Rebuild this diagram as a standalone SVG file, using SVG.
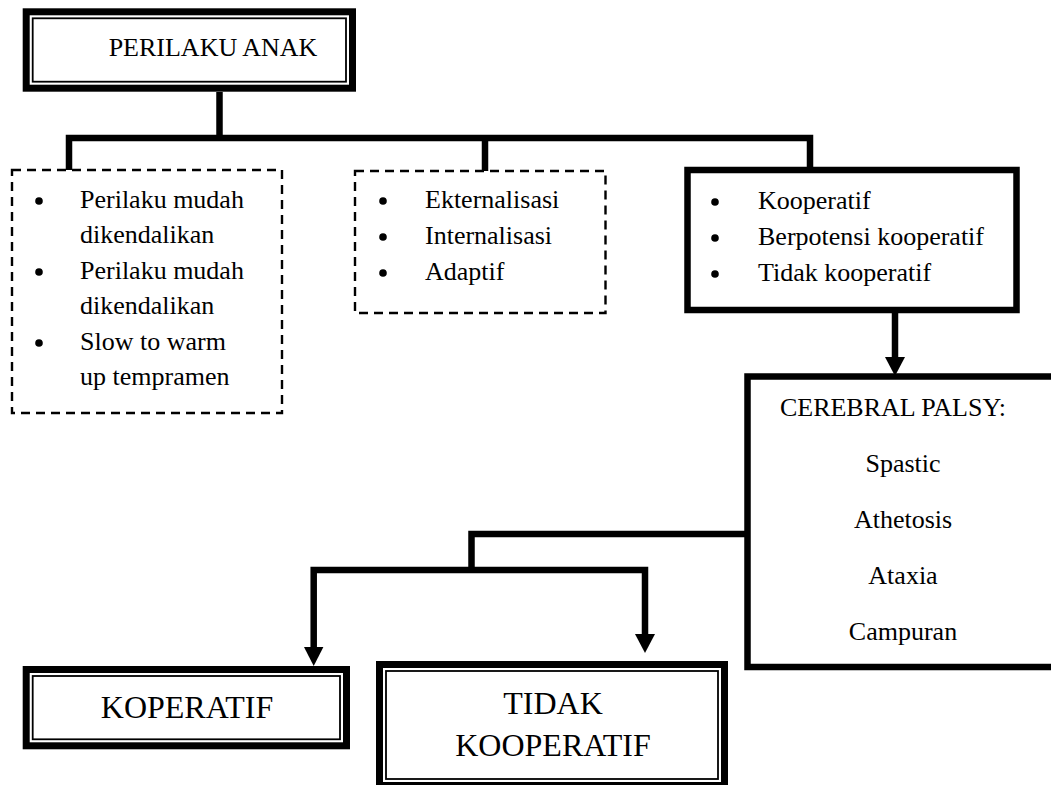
<svg xmlns="http://www.w3.org/2000/svg" width="1051" height="785" viewBox="0 0 1051 785" font-family="'Liberation Serif', 'Times New Roman', Times, serif">
<style>
  text { font-family: 'Liberation Serif', 'Times New Roman', Times, serif; fill: #000; }
  .t26 { font-size: 26px; }
  .t32 { font-size: 32px; }
  .mid { text-anchor: middle; }
  .thick { fill: #fff; stroke: #000; stroke-width: 7; }
  .thin { fill: none; stroke: #000; stroke-width: 1.8; }
  .solid { fill: #fff; stroke: #000; stroke-width: 6.5; }
  .dash { fill: #fff; stroke: #000; stroke-width: 2.4; stroke-dasharray: 9 6; }
  .conn { fill: none; stroke: #000; stroke-width: 6.5; stroke-linejoin: miter; }
  .dot { fill: #000; }
</style>
<rect x="0" y="0" width="1051" height="785" fill="#fff"/>

<g id="connectors">
  <path class="conn" d="M219.5,92 V138"/>
  <path class="conn" d="M69,171 V138 H810 V168"/>
  <path class="conn" d="M485,138 V171"/>
  <path class="conn" d="M895,312 V358"/>
  <polygon points="885,357 905,357 895,376"/>
  <path class="conn" d="M748,534 H471.5 V570"/>
  <path class="conn" d="M313.7,648 V570 H645 V635"/>
  <polygon points="304,647 323.4,647 313.7,666"/>
  <polygon points="635,634 655,634 645,653"/>
</g>

<g id="node-perilaku-anak">
  <rect class="thick" x="26.2" y="11.8" width="326.3" height="76.4"/>
  <rect class="thin" x="32.7" y="18.3" width="313.3" height="63.4"/>
  <text class="t26 mid" x="213" y="56" font-family="'Liberation Serif', serif">PERILAKU ANAK</text>
</g>

<g id="node-list-1">
  <rect class="dash" x="12" y="170" width="270" height="243"/>
  <circle class="dot" cx="39" cy="201" r="3.8"/>
  <circle class="dot" cx="39" cy="272" r="3.8"/>
  <circle class="dot" cx="39" cy="343" r="3.8"/>
  <text class="t26" x="80" y="208">Perilaku mudah</text>
  <text class="t26" x="80" y="243">dikendalikan</text>
  <text class="t26" x="80" y="279">Perilaku mudah</text>
  <text class="t26" x="80" y="314">dikendalikan</text>
  <text class="t26" x="80" y="350">Slow to warm</text>
  <text class="t26" x="80" y="385">up tempramen</text>
</g>

<g id="node-list-2">
  <rect class="dash" x="355" y="171" width="250.5" height="142"/>
  <circle class="dot" cx="383" cy="201" r="3.8"/>
  <circle class="dot" cx="383" cy="237" r="3.8"/>
  <circle class="dot" cx="383" cy="273" r="3.8"/>
  <text class="t26" x="425" y="208">Ekternalisasi</text>
  <text class="t26" x="425" y="244">Internalisasi</text>
  <text class="t26" x="425" y="280">Adaptif</text>
</g>

<g id="node-list-3">
  <rect class="solid" x="687.5" y="170" width="329" height="140"/>
  <circle class="dot" cx="715" cy="202" r="3.8"/>
  <circle class="dot" cx="715" cy="238" r="3.8"/>
  <circle class="dot" cx="715" cy="274" r="3.8"/>
  <text class="t26" x="758" y="209">Kooperatif</text>
  <text class="t26" x="758" y="245">Berpotensi kooperatif</text>
  <text class="t26" x="758" y="281">Tidak kooperatif</text>
</g>

<g id="node-cerebral-palsy">
  <rect class="solid" x="747.5" y="376.5" width="320" height="290.5"/>
  <text class="t26 mid" x="893" y="416">CEREBRAL PALSY:</text>
  <text class="t26 mid" x="903" y="472">Spastic</text>
  <text class="t26 mid" x="903" y="528">Athetosis</text>
  <text class="t26 mid" x="903" y="584">Ataxia</text>
  <text class="t26 mid" x="903" y="640">Campuran</text>
</g>

<g id="node-koperatif">
  <rect class="thick" x="26.2" y="669.5" width="320.3" height="76.3"/>
  <rect class="thin" x="32.7" y="676" width="307.3" height="63.3"/>
  <text class="t32 mid" x="187" y="718">KOPERATIF</text>
</g>

<g id="node-tidak-kooperatif">
  <rect class="thick" x="379.5" y="664.5" width="345" height="121"/>
  <rect class="thin" x="386" y="671" width="332" height="108"/>
  <text class="t32 mid" x="553" y="714">TIDAK</text>
  <text class="t32 mid" x="553" y="756">KOOPERATIF</text>
</g>
</svg>
